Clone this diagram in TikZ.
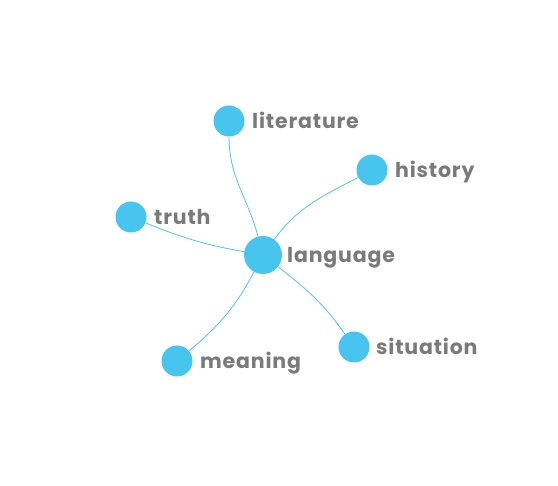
\documentclass[tikz,border=0pt]{standalone}
\usepackage{fontspec}
\setmainfont{Poppins}
\newfontfamily\lblfont[LetterSpace=4]{Poppins}
\definecolor{nodeblue}{HTML}{48C5EF}
\definecolor{labelgray}{HTML}{7A7A7A}
\begin{document}
\begin{tikzpicture}[x=1pt,y=-1pt,
  dot/.style={circle,fill=nodeblue,draw=none,inner sep=0pt,minimum size=31pt},
  bigdot/.style={dot,minimum size=38pt},
  lbl/.style={anchor=base west,inner sep=0pt,text=labelgray,font=\lblfont\fontsize{20.5}{22}\selectfont\bfseries},
  edge/.style={draw=nodeblue,line width=0.8pt}]
\useasboundingbox (0,0) rectangle (558,486);
\node[bigdot] (lang) at (263,255) {};
\node[dot] (lit) at (229,121) {};
\node[dot] (hist) at (372,170) {};
\node[dot] (truth) at (131,217) {};
\node[dot] (mean) at (177,361) {};
\node[dot] (sit) at (354,347) {};
\node[lbl] (tlang) at (287,263) {language};
\node[lbl] (tlit) at (252,129) {literature};
\node[lbl] (thist) at (395,178) {history};
\node[lbl] (ttruth) at (154,225) {truth};
\node[lbl] (tmean) at (200,369) {meaning};
\node[lbl] (tsit) at (376,355) {situation};
\draw[edge] (lang) to[out=105,in=-90] (lit);
\draw[edge] (lang) to[out=54,in=208] (hist);
\draw[edge] (truth) to[out=-22,in=170] (lang);
\draw[edge] (lang) to[out=-118,in=40] (mean);
\draw[edge] (lang) to[out=-38,in=125] (sit);
\end{tikzpicture}
\end{document}
